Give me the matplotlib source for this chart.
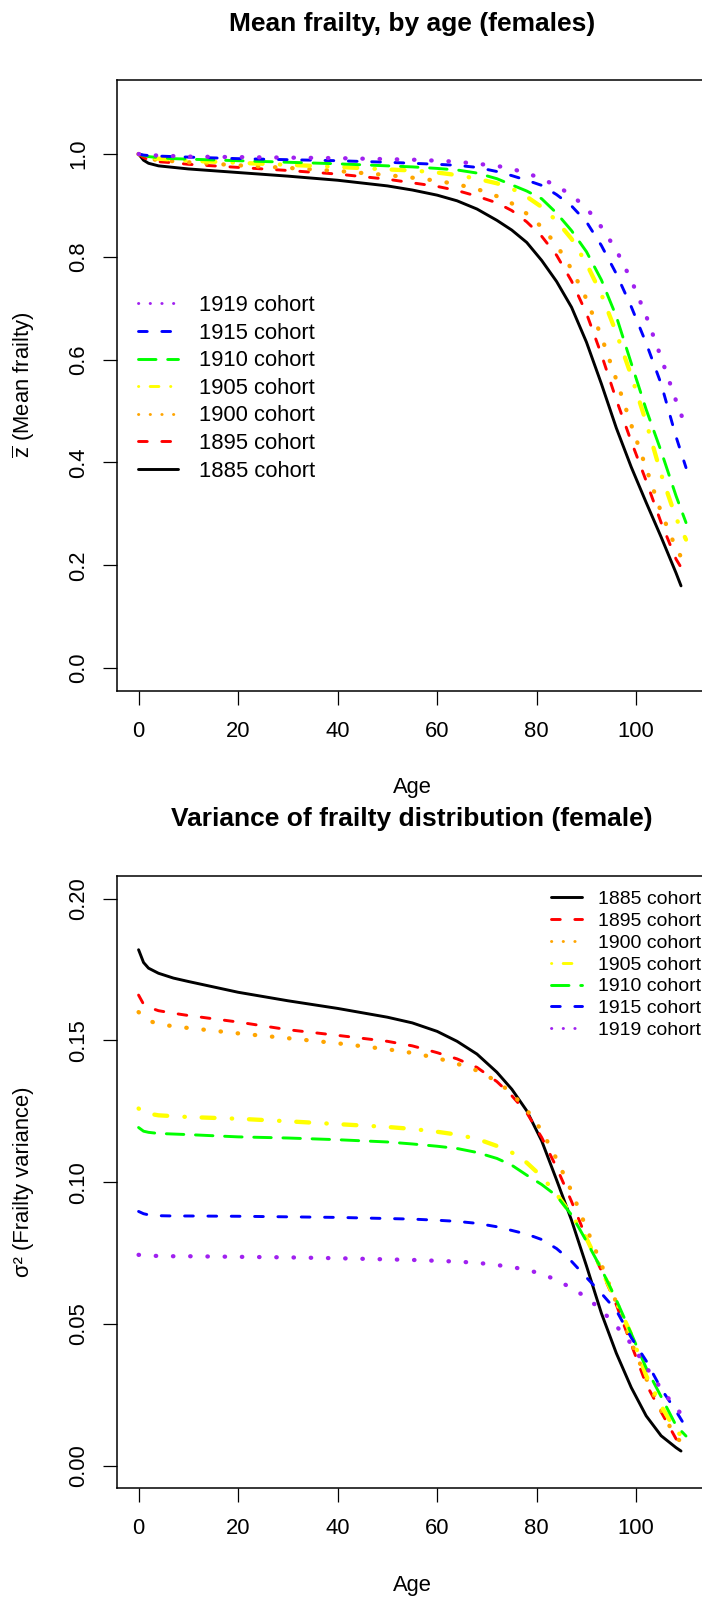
import numpy as np
import matplotlib
matplotlib.use("Agg")
import matplotlib.pyplot as plt
from matplotlib.lines import Line2D

plt.rcParams['font.family'] = ['Liberation Sans', 'DejaVu Sans']
plt.rcParams['mathtext.fontset'] = 'custom'
plt.rcParams['mathtext.rm'] = 'Liberation Sans'
plt.rcParams['mathtext.it'] = 'Liberation Sans:italic'
plt.rcParams['lines.dash_capstyle'] = 'round'
plt.rcParams['lines.solid_capstyle'] = 'round'

ages = [0, 1, 2, 4, 7, 10, 20, 30, 40, 50, 55, 60, 64, 68, 72, 75, 78, 81, 84, 87,
        90, 93, 96, 99, 102, 105, 108, 110]
ages_1885 = ages[:-1] + [109]

cohorts = ['1885', '1895', '1900', '1905', '1910', '1915', '1919']

# mean frailty (top panel)
zbar_1885 = [1.0, 0.988, 0.982, 0.977, 0.974, 0.971, 0.964, 0.957, 0.949, 0.938, 0.93, 0.92, 0.909, 0.893,
             0.871, 0.852, 0.828, 0.793, 0.752, 0.702, 0.634, 0.553, 0.467, 0.391, 0.322, 0.255, 0.185, 0.16]
zbar_1895 = [1.0, 0.993, 0.989, 0.985, 0.983, 0.98, 0.974, 0.968, 0.961, 0.951, 0.944, 0.937, 0.929, 0.918,
             0.905, 0.89, 0.868, 0.84, 0.803, 0.753, 0.69, 0.61, 0.522, 0.441, 0.364, 0.283, 0.212, 0.18]
zbar_1900 = [1.0, 0.995, 0.991, 0.988, 0.986, 0.984, 0.978, 0.973, 0.967, 0.959, 0.954, 0.948, 0.941, 0.932,
             0.918, 0.904, 0.884, 0.858, 0.823, 0.776, 0.718, 0.645, 0.561, 0.473, 0.389, 0.303, 0.233, 0.2]
zbar_1905 = [1.0, 0.996, 0.993, 0.991, 0.989, 0.987, 0.983, 0.979, 0.975, 0.97, 0.968, 0.964, 0.959, 0.952,
             0.943, 0.933, 0.917, 0.897, 0.87, 0.835, 0.787, 0.727, 0.652, 0.569, 0.478, 0.377, 0.292, 0.25]
zbar_1910 = [1.0, 0.997, 0.995, 0.993, 0.991, 0.99, 0.987, 0.984, 0.981, 0.977, 0.975, 0.972, 0.969, 0.963,
             0.952, 0.94, 0.928, 0.913, 0.885, 0.851, 0.81, 0.755, 0.684, 0.593, 0.503, 0.422, 0.335, 0.283]
zbar_1915 = [1.0, 0.998, 0.997, 0.996, 0.995, 0.994, 0.991, 0.989, 0.987, 0.984, 0.982, 0.98, 0.978, 0.974,
             0.966, 0.958, 0.949, 0.939, 0.921, 0.899, 0.868, 0.822, 0.767, 0.703, 0.632, 0.553, 0.45, 0.39]
zbar_1919 = [1.0, 0.999, 0.998, 0.997, 0.996, 0.995, 0.994, 0.993, 0.992, 0.99, 0.989, 0.987, 0.985, 0.981,
             0.977, 0.971, 0.963, 0.952, 0.938, 0.92, 0.895, 0.858, 0.813, 0.755, 0.685, 0.604, 0.52, 0.468]

# frailty variance (bottom panel)
var_1885 = [0.182, 0.1775, 0.1755, 0.1737, 0.172, 0.1708, 0.167, 0.164, 0.1613, 0.1582, 0.1562, 0.1532,
            0.1497, 0.1452, 0.1388, 0.1328, 0.1252, 0.1146, 0.1008, 0.0866, 0.0705, 0.0538, 0.0397,
            0.0276, 0.0176, 0.0106, 0.0064, 0.0052]
var_1895 = [0.166, 0.1628, 0.1617, 0.1605, 0.1596, 0.1588, 0.1565, 0.1538, 0.1518, 0.1497, 0.1481, 0.1457,
            0.1435, 0.1405, 0.1355, 0.1305, 0.1245, 0.1158, 0.1052, 0.0932, 0.0803, 0.0688, 0.0568,
            0.0428, 0.0288, 0.019, 0.0095, 0.0065]
var_1900 = [0.160, 0.1585, 0.157, 0.1558, 0.155, 0.1544, 0.1525, 0.1508, 0.149, 0.1469, 0.1456, 0.1438,
            0.1418, 0.1394, 0.1356, 0.1314, 0.1255, 0.1182, 0.1082, 0.0968, 0.0838, 0.071, 0.0575,
            0.0435, 0.0308, 0.0195, 0.0098, 0.0075]
var_1905 = [0.126, 0.1248, 0.1242, 0.1236, 0.1233, 0.123, 0.1224, 0.1215, 0.1205, 0.1195, 0.1188, 0.1178,
            0.1168, 0.1153, 0.1128, 0.1105, 0.1069, 0.102, 0.0958, 0.0885, 0.0802, 0.0692, 0.0578,
            0.0463, 0.0318, 0.0212, 0.0122, 0.0095]
var_1910 = [0.1193, 0.118, 0.1176, 0.1172, 0.117, 0.1168, 0.116, 0.1156, 0.115, 0.1142, 0.1135, 0.1127,
            0.1119, 0.1105, 0.1084, 0.106, 0.1025, 0.0992, 0.0952, 0.0885, 0.0792, 0.0694, 0.0585,
            0.0466, 0.0345, 0.0244, 0.0142, 0.0105]
var_1915 = [0.0897, 0.0889, 0.0885, 0.0882, 0.0881, 0.0881, 0.088, 0.0878, 0.0876, 0.0872, 0.087, 0.0866,
            0.0862, 0.0855, 0.0843, 0.083, 0.0817, 0.0798, 0.0766, 0.0721, 0.0664, 0.0608, 0.0548,
            0.0452, 0.037, 0.0272, 0.0193, 0.0135]
var_1919 = [0.0744, 0.0742, 0.0741, 0.074, 0.0739, 0.0739, 0.0737, 0.0735, 0.0732, 0.0728, 0.0726, 0.0723,
            0.072, 0.0716, 0.0708, 0.0701, 0.0691, 0.0677, 0.0655, 0.0627, 0.0594, 0.0549, 0.0493,
            0.043, 0.0348, 0.0272, 0.0203, 0.0165]

zbar = [zbar_1885, zbar_1895, zbar_1900, zbar_1905, zbar_1910, zbar_1915, zbar_1919]
fvar = [var_1885, var_1895, var_1900, var_1905, var_1910, var_1915, var_1919]

# R-like line types (lengths in units of line width)
colors = ['black', '#FF0000', '#FFA500', '#FFFF00', '#00FF00', '#0000FF', '#A020F0']
ltys = ['-', (0, (3, 5)), (0, (0.1, 3.9)), (0, (0.1, 3.9, 3, 4)), (0, (6, 4)), (0, (3, 5)), (0, (0.1, 3.9))]
lw_plot = [2.1, 2.1, 3.1, 3.1, 2.1, 2.1, 3.1]
LW_LEG = 2.1

FS = 15.8
fig = plt.figure(figsize=(7.02, 16), dpi=100)
ax1 = fig.add_axes([0.1662, 0.5683, 0.8422, 0.3817])
ax2 = fig.add_axes([0.1662, 0.0697, 0.8422, 0.3828])


def style_axes(ax):
    ax.set_xlim(-4.4, 114.4)
    ax.set_xticks([0, 20, 40, 60, 80, 100])
    for s in ax.spines.values():
        s.set_linewidth(1.1)
    ax.tick_params(length=10, width=0.9, labelsize=FS)
    ax.tick_params(axis='x', pad=11.5)
    ax.tick_params(axis='y', pad=10, labelrotation=90)
    for lab in ax.get_yticklabels():
        lab.set_va('center')
    ax.set_xlabel('Age', fontsize=FS)
    ax.xaxis.set_label_coords(0.5, -0.1577)
    ax.xaxis.label.set_va('center')


# top panel
for i in range(len(cohorts)):
    x = ages_1885 if cohorts[i] == '1885' else ages
    ax1.plot(x, zbar[i], color=colors[i], linestyle=ltys[i], linewidth=lw_plot[i])
ax1.set_ylim(-0.044, 1.144)
ax1.set_yticks([0.0, 0.2, 0.4, 0.6, 0.8, 1.0])
ax1.set_yticklabels(['0.0', '0.2', '0.4', '0.6', '0.8', '1.0'])
style_axes(ax1)
ax1.set_ylabel(r'$\overline{\mathrm{z}}$ (Mean frailty)', fontsize=FS)
ax1.yaxis.set_label_coords(-0.157, 0.5)
ax1.yaxis.label.set_va('center')
ax1.set_title('Mean frailty, by age (females)', fontsize=19, fontweight='bold',
              y=1.092, va='center', pad=0)

order_top = [6, 5, 4, 3, 2, 1, 0]
h_top = [Line2D([], [], color=colors[i], linestyle=ltys[i], linewidth=LW_LEG) for i in order_top]
fig.legend(h_top, [cohorts[i] + ' cohort' for i in order_top], loc='upper left',
           bbox_to_anchor=(0.1969, 0.8156), frameon=False, fontsize=FS, borderpad=0,
           borderaxespad=0, handlelength=1.82, handletextpad=0.95, labelspacing=0.3)

# bottom panel
for i in range(len(cohorts)):
    x = ages_1885 if cohorts[i] == '1885' else ages
    ax2.plot(x, fvar[i], color=colors[i], linestyle=ltys[i], linewidth=lw_plot[i])
ax2.set_ylim(-0.008, 0.208)
ax2.set_yticks([0.0, 0.05, 0.10, 0.15, 0.20])
ax2.set_yticklabels(['0.00', '0.05', '0.10', '0.15', '0.20'])
style_axes(ax2)
ax2.set_ylabel('σ² (Frailty variance)', fontsize=FS)
ax2.yaxis.set_label_coords(-0.157, 0.5)
ax2.yaxis.label.set_va('center')
ax2.set_title('Variance of frailty distribution (female)', fontsize=19, fontweight='bold',
              y=1.093, va='center', pad=0)

h_bot = [Line2D([], [], color=colors[i], linestyle=ltys[i], linewidth=LW_LEG) for i in range(7)]
fig.legend(h_bot, [c + ' cohort' for c in cohorts], loc='upper left',
           bbox_to_anchor=(0.7845, 0.4436), frameon=False, fontsize=14, borderpad=0,
           borderaxespad=0, handlelength=1.6, handletextpad=0.85, labelspacing=0.22)

fig.savefig('out.png', dpi=100)
